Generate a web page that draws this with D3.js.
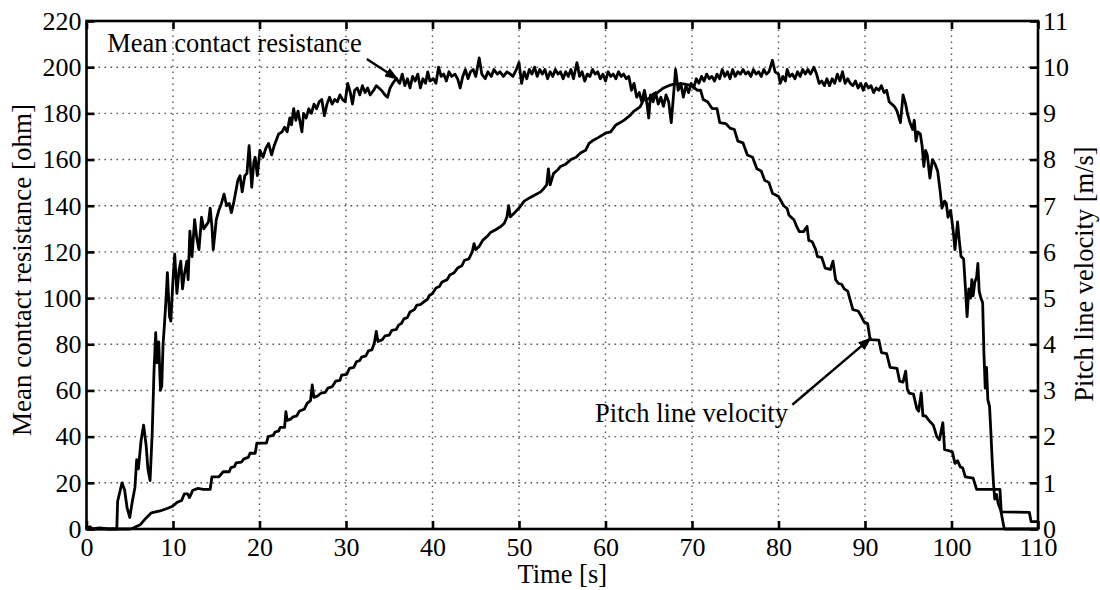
<!DOCTYPE html>
<html>
<head>
<meta charset="utf-8">
<script src="https://cdn.jsdelivr.net/npm/d3@7"></script>
<style>
  body { margin: 0; background: #fff; }
  svg text { font-family: "Liberation Serif", "Times New Roman", serif; }
</style>
</head>
<body>
<div id="chart"></div>
<script>
// ----- data

var timeTicks = [0, 10, 20, 30, 40, 50, 60, 70, 80, 90, 100, 110];
var resistanceTicks = [0, 20, 40, 60, 80, 100, 120, 140, 160, 180, 200, 220];
var velocityTicks = [0, 1, 2, 3, 4, 5, 6, 7, 8, 9, 10, 11];

// [time s, mean contact resistance ohm]
var resistance = [
  [0,0],[0.4,1],[0.7,0],[1.5,0.5],[2.5,0],[3.5,0],[3.6,12],[4.1,20],[4.4,17],[4.7,9],
  [5.0,5],[5.3,12],[5.6,18],[5.8,30],[6.0,26],[6.3,38],[6.6,45],[6.9,36],[7.1,26],[7.35,21],
  [7.6,42],[7.8,68],[8.0,85],[8.15,72],[8.35,81],[8.55,60],[8.7,62],[8.85,80],[9.0,88],[9.2,100],
  [9.35,111],[9.6,92],[9.75,90],[10.0,108],[10.2,119],[10.45,102],[10.7,112],[10.9,116],[11.1,104],[11.3,110],
  [11.6,116],[11.75,108],[11.95,129],[12.2,118],[12.5,134],[12.75,126],[13.0,121],[13.3,135],[13.55,130],[13.75,131],
  [14.1,133],[14.3,139],[14.5,131],[14.65,121],[14.85,128],[15.0,134],[15.3,138],[15.6,141],[15.9,145],[16.2,140],
  [16.5,141],[16.75,137],[17.0,141],[17.3,147],[17.5,151],[17.75,153],[18.0,146],[18.3,153],[18.55,154],[18.8,166],
  [19.1,148],[19.35,159],[19.5,161],[19.75,153],[20.05,164],[20.4,161],[20.75,165],[21.05,167],[21.4,162],[21.7,166],
  [22.2,171],[22.6,172],[22.9,174],[23.2,172],[23.5,178],[23.7,175],[23.95,182],[24.2,177],[24.45,181],[24.7,176],
  [24.9,172],[25.1,180],[25.4,178],[25.7,182],[26.0,180],[26.3,184],[26.6,182],[26.9,185],[27.2,186],[27.5,179],
  [27.8,184],[28.1,187],[28.4,184],[28.7,186],[29.0,185],[29.3,188],[29.6,186],[29.9,185],[30.2,193],[30.5,189],
  [30.75,184],[31.0,190],[31.3,191],[31.6,188],[31.9,192],[32.2,189],[32.5,191],[32.8,188],[33.2,190],[33.5,192],
  [33.8,191],[34.1,190],[34.5,188],[34.8,187],[35.1,191],[35.4,193],[35.8,195],[36.2,193],[36.5,197],[36.8,192],
  [37.1,195],[37.4,191],[37.7,196],[38.0,194],[38.3,197],[38.6,191],[38.9,195],[39.2,193],[39.45,198],[39.7,194],
  [40.1,195],[40.4,193],[40.7,200],[41.0,196],[41.3,197],[41.6,194],[41.9,198],[42.2,196],[42.6,197],[42.9,195],
  [43.2,191],[43.5,196],[43.8,199],[44.1,195],[44.4,198],[44.7,199],[45.0,196],[45.4,204],[45.7,197],[46.1,195],
  [46.4,198],[46.8,196],[47.1,199],[47.5,197],[47.8,198],[48.2,196],[48.6,198],[49.0,197],[49.3,196],[49.7,199],
  [50.0,202],[50.3,193],[50.6,198],[50.9,195],[51.2,199],[51.5,197],[51.8,200],[52.1,196],[52.4,199],[52.7,197],
  [53.0,199],[53.3,195],[53.6,198],[53.9,196],[54.2,199],[54.5,197],[54.8,198],[55.1,195],[55.4,198],[55.7,196],
  [56.0,199],[56.3,195],[56.7,202],[57.0,196],[57.3,198],[57.6,194],[57.9,197],[58.2,196],[58.5,199],[58.8,197],
  [59.1,198],[59.4,195],[59.7,197],[60.0,194],[60.3,198],[60.6,196],[60.9,197],[61.2,195],[61.5,198],[61.8,196],
  [62.1,197],[62.4,195],[62.7,196],[63.0,190],[63.3,193],[63.6,187],[63.9,189],[64.2,185],[64.5,190],[64.8,184],
  [65.0,178],[65.2,188],[65.5,185],[65.8,189],[66.1,184],[66.4,187],[66.7,183],[67.0,188],[67.3,185],[67.6,176],
  [67.8,185],[68.1,199],[68.4,190],[68.7,193],[69.0,187],[69.3,192],[69.6,189],[69.9,193],[70.2,191],[70.5,195],
  [70.8,193],[71.1,196],[71.4,194],[71.7,197],[72.0,195],[72.3,196],[72.6,194],[72.9,197],[73.2,195],[73.5,199],
  [73.8,196],[74.1,198],[74.4,195],[74.7,199],[75.0,196],[75.3,198],[75.6,197],[75.9,199],[76.2,197],[76.5,198],
  [76.8,196],[77.1,199],[77.4,197],[77.7,198],[78.0,196],[78.3,199],[78.6,197],[78.9,198],[79.3,203],[79.6,198],
  [80.0,197],[80.2,193],[80.5,196],[80.8,194],[81.0,199],[81.3,196],[81.6,197],[81.9,195],[82.2,198],[82.5,196],
  [82.8,199],[83.1,197],[83.4,199],[83.7,197],[84.1,200],[84.4,197],[84.7,193],[85.0,194],[85.3,192],[85.6,195],
  [85.9,192],[86.2,195],[86.5,193],[86.8,197],[87.1,194],[87.4,198],[87.7,193],[88.0,195],[88.3,193],[88.6,192],
  [88.9,194],[89.2,191],[89.5,193],[89.8,190],[90.1,193],[90.4,191],[90.7,192],[91.0,189],[91.3,191],[91.6,190],
  [91.9,192],[92.2,189],[92.5,190],[92.8,185],[93.1,184],[93.4,183],[93.7,181],[94.1,176],[94.4,188],[94.7,184],
  [94.9,180],[95.2,176],[95.5,173],[95.7,177],[95.9,168],[96.1,172],[96.4,171],[96.6,166],[96.8,157],[97.0,164],
  [97.2,162],[97.5,152],[97.8,160],[98.1,158],[98.4,155],[98.7,146],[98.9,139],[99.2,142],[99.4,141],[99.6,135],
  [99.9,138],[100.2,129],[100.4,121],[100.7,133],[100.9,125],[101.1,118],[101.4,117],[101.6,105],[101.8,92],[102.0,104],
  [102.2,100],[102.35,108],[102.5,101],[102.7,107],[102.9,109],[103.05,115],[103.2,103],[103.4,100],[103.6,98],[103.75,76],
  [103.9,61],[104.05,70],[104.2,56],[104.4,53],[104.55,42],[104.7,30],[104.85,20],[105.0,13],[105.2,15],[105.4,11],
  [105.7,8],[106.1,0],[110,0]
];

// [time s, pitch line velocity m/s]
var velocity = [
  [0,0],[5.0,0],[5.4,0.02],[6.2,0.09],[6.9,0.24],[7.5,0.35],[8.5,0.39],[9.4,0.45],[10.0,0.5],[10.5,0.58],
  [11.0,0.62],[11.3,0.76],[11.7,0.76],[11.9,0.68],[12.3,0.84],[12.9,0.88],[13.5,0.86],[14.3,0.86],[14.5,1.13],[15.3,1.13],
  [15.8,1.24],[16.5,1.24],[16.7,1.33],[17.1,1.35],[17.3,1.43],[17.9,1.45],[18.2,1.52],[18.7,1.55],[18.9,1.64],[19.5,1.64],
  [19.7,1.86],[20.8,1.86],[21.0,2.0],[21.6,2.03],[21.8,2.1],[22.2,2.12],[22.4,2.2],[22.9,2.2],[23.05,2.54],[23.2,2.35],
  [23.6,2.38],[23.9,2.43],[24.3,2.45],[24.6,2.55],[25.2,2.6],[25.5,2.72],[25.9,2.78],[26.1,3.12],[26.3,2.85],[26.7,2.88],
  [27.1,2.94],[27.6,2.96],[27.9,3.05],[28.4,3.08],[28.8,3.2],[29.3,3.22],[29.5,3.33],[30.1,3.35],[30.4,3.48],[30.9,3.5],
  [31.2,3.62],[31.6,3.65],[31.8,3.72],[32.3,3.75],[32.6,3.86],[33.0,3.88],[33.3,4.05],[33.5,4.28],[33.7,4.06],[34.2,4.1],
  [34.5,4.18],[35.0,4.2],[35.3,4.3],[35.8,4.32],[36.1,4.42],[36.4,4.45],[36.7,4.55],[37.1,4.58],[37.4,4.7],[37.9,4.75],
  [38.2,4.85],[38.6,4.86],[39.0,4.92],[39.4,4.97],[39.6,5.05],[40.0,5.1],[40.4,5.22],[40.8,5.25],[41.1,5.35],[41.7,5.4],
  [42.0,5.5],[42.5,5.55],[42.9,5.65],[43.4,5.7],[43.7,5.82],[44.2,5.85],[44.6,6.0],[44.8,6.18],[45.0,6.05],[45.4,6.12],
  [45.8,6.25],[46.4,6.35],[46.7,6.42],[47.3,6.48],[47.9,6.55],[48.3,6.62],[48.6,6.75],[48.8,7.0],[49.0,6.76],[49.5,6.85],
  [50.0,6.95],[50.6,7.1],[51.3,7.18],[52.0,7.25],[52.5,7.3],[52.9,7.38],[53.2,7.45],[53.4,7.8],[53.6,7.45],[54.0,7.7],
  [54.5,7.78],[54.8,7.85],[55.4,7.9],[56.0,8.0],[56.6,8.05],[57.1,8.14],[57.7,8.2],[58.1,8.35],[58.6,8.42],[59.2,8.48],
  [60.0,8.57],[60.6,8.6],[61.2,8.75],[61.7,8.8],[62.2,8.86],[62.8,8.95],[63.3,9.05],[64.0,9.14],[64.4,9.29],[65.0,9.32],
  [65.6,9.43],[66.0,9.45],[66.7,9.55],[67.3,9.6],[68.0,9.64],[69.0,9.64],[70.0,9.6],[70.6,9.5],[71.0,9.5],[71.3,9.3],
  [71.8,9.25],[72.3,9.11],[72.9,9.1],[73.2,8.8],[73.9,8.78],[74.4,8.68],[74.9,8.65],[75.3,8.4],[75.9,8.36],[76.4,8.1],
  [77.0,8.05],[77.5,7.8],[78.0,7.75],[78.4,7.55],[78.9,7.5],[79.3,7.27],[80.0,7.2],[80.6,7.0],[81.0,6.94],[81.2,6.8],
  [81.8,6.69],[82.1,6.55],[82.4,6.44],[82.9,6.44],[83.3,6.55],[83.5,6.25],[83.9,6.22],[84.3,6.05],[84.5,5.9],[85.0,5.88],
  [85.4,5.65],[86.0,5.62],[86.3,5.8],[86.6,5.4],[86.9,5.32],[87.3,5.3],[87.6,5.2],[88.0,5.15],[88.3,4.95],[88.6,4.75],
  [89.2,4.72],[89.5,4.63],[89.9,4.48],[90.3,4.45],[90.6,4.1],[91.6,4.09],[91.9,3.82],[92.5,3.8],[92.9,3.5],[93.7,3.48],
  [94.0,3.2],[94.4,3.18],[94.7,3.42],[94.9,3.02],[95.1,2.94],[95.6,2.92],[96.0,2.6],[96.2,2.55],[96.5,2.95],[96.7,2.45],
  [97.0,2.45],[97.4,2.35],[97.9,2.25],[98.3,2.0],[98.6,1.93],[99.0,2.3],[99.2,1.72],[99.6,1.7],[100.1,1.67],[100.4,1.42],
  [100.7,1.48],[101.0,1.35],[101.3,1.32],[101.6,1.13],[102.5,1.1],[102.9,0.86],[105.6,0.86],[105.75,0.37],[109.0,0.36],[109.2,0.16],
  [110,0.16]
];

// annotations in data units: text anchor, arrow tail, arrow tip
var resNote = { text: "Mean contact resistance", at: [2.4, 206.6], from: [32.4, 203.5], to: [36.0, 194.8] };
var velNote = { text: "Pitch line velocity", at: [58.8, 2.32], from: [81.6, 2.69], to: [90.7, 4.14] };

// ----- layout

var width = 1100, height = 590;
var serif = '"Liberation Serif", "Times New Roman", serif';
var x = d3.scaleLinear().domain([0, 110]).range([86.5, 1038]);
var yL = d3.scaleLinear().domain([0, 220]).range([529, 21]);
var yR = d3.scaleLinear().domain([0, 11]).range([529, 21]);

var svg = d3.select("#chart").append("svg")
    .attr("width", width)
    .attr("height", height)
    .attr("font-family", serif);

svg.append("defs").append("marker")
    .attr("id", "head")
    .attr("markerUnits", "userSpaceOnUse")
    .attr("viewBox", "0 0 14 10")
    .attr("refX", 13)
    .attr("refY", 5)
    .attr("markerWidth", 14)
    .attr("markerHeight", 10)
    .attr("orient", "auto")
  .append("path")
    .attr("d", "M0,0 L14,5 L0,10 Z")
    .attr("fill", "#000");

// dotted grid
var grid = svg.append("g").attr("stroke", "#555").attr("stroke-width", 1.4).attr("stroke-dasharray", "1.6,4.4");
grid.selectAll("line.v")
    .data(timeTicks.slice(1, -1))
    .enter().append("line")
    .attr("x1", function(d) { return x(d); })
    .attr("x2", function(d) { return x(d); })
    .attr("y1", yL(0))
    .attr("y2", yL(220));
grid.selectAll("line.h")
    .data(resistanceTicks.slice(1, -1))
    .enter().append("line")
    .attr("x1", x(0))
    .attr("x2", x(110))
    .attr("y1", function(d) { return yL(d); })
    .attr("y2", function(d) { return yL(d); });

// series
var resLine = d3.line().x(function(d) { return x(d[0]); }).y(function(d) { return yL(d[1]); });
var velLine = d3.line().x(function(d) { return x(d[0]); }).y(function(d) { return yR(d[1]); });

svg.append("path")
    .attr("d", velLine(velocity))
    .attr("fill", "none").attr("stroke", "#000")
    .attr("stroke-width", 2.8).attr("stroke-linejoin", "round");

svg.append("path")
    .attr("d", resLine(resistance))
    .attr("fill", "none").attr("stroke", "#000")
    .attr("stroke-width", 2.8).attr("stroke-linejoin", "round");

// axes, ticks pointing inwards
function styleAxis(g) {
  g.attr("font-family", serif).attr("font-size", 26);
  g.select(".domain").remove();
  g.selectAll(".tick line").attr("stroke", "#000").attr("stroke-width", 2.6);
  g.selectAll(".tick text").attr("fill", "#000");
}

svg.append("g")
    .attr("transform", "translate(0," + yL(0) + ")")
    .call(d3.axisBottom(x).tickValues(timeTicks).tickSizeInner(-8).tickSizeOuter(0).tickPadding(9))
    .call(styleAxis);

svg.append("g")
    .attr("transform", "translate(0," + yL(220) + ")")
    .call(d3.axisTop(x).tickValues(timeTicks).tickSizeInner(-8).tickSizeOuter(0).tickFormat(""))
    .call(styleAxis);

svg.append("g")
    .attr("transform", "translate(" + x(0) + ",0)")
    .call(d3.axisLeft(yL).tickValues(resistanceTicks).tickSizeInner(-8).tickSizeOuter(0).tickPadding(5))
    .call(styleAxis);

svg.append("g")
    .attr("transform", "translate(" + x(110) + ",0)")
    .call(d3.axisRight(yR).tickValues(velocityTicks).tickSizeInner(-8).tickSizeOuter(0).tickPadding(5))
    .call(styleAxis);

// frame
svg.append("rect")
    .attr("x", x(0)).attr("y", yL(220))
    .attr("width", x(110) - x(0)).attr("height", yL(0) - yL(220))
    .attr("fill", "none").attr("stroke", "#000").attr("stroke-width", 2.6);

// axis titles
svg.append("text")
    .attr("x", (x(0) + x(110)) / 2).attr("y", 583)
    .attr("text-anchor", "middle").attr("font-size", 26.5)
    .text("Time [s]");

svg.append("text")
    .attr("transform", "translate(31," + 270 + ") rotate(-90)")
    .attr("text-anchor", "middle").attr("font-size", 27)
    .text("Mean contact resistance [ohm]");

svg.append("text")
    .attr("transform", "translate(1093," + 274 + ") rotate(-90)")
    .attr("text-anchor", "middle").attr("font-size", 26.5)
    .text("Pitch line velocity [m/s]");

// annotations
svg.append("text")
    .attr("x", x(resNote.at[0])).attr("y", yL(resNote.at[1]))
    .attr("font-size", 26.5)
    .text(resNote.text);
svg.append("line")
    .attr("x1", x(resNote.from[0])).attr("y1", yL(resNote.from[1]))
    .attr("x2", x(resNote.to[0])).attr("y2", yL(resNote.to[1]))
    .attr("stroke", "#000").attr("stroke-width", 2.4)
    .attr("marker-end", "url(#head)");

svg.append("text")
    .attr("x", x(velNote.at[0])).attr("y", yR(velNote.at[1]))
    .attr("font-size", 26.5)
    .text(velNote.text);
svg.append("line")
    .attr("x1", x(velNote.from[0])).attr("y1", yR(velNote.from[1]))
    .attr("x2", x(velNote.to[0])).attr("y2", yR(velNote.to[1]))
    .attr("stroke", "#000").attr("stroke-width", 2.4)
    .attr("marker-end", "url(#head)");
</script>
</body>
</html>
